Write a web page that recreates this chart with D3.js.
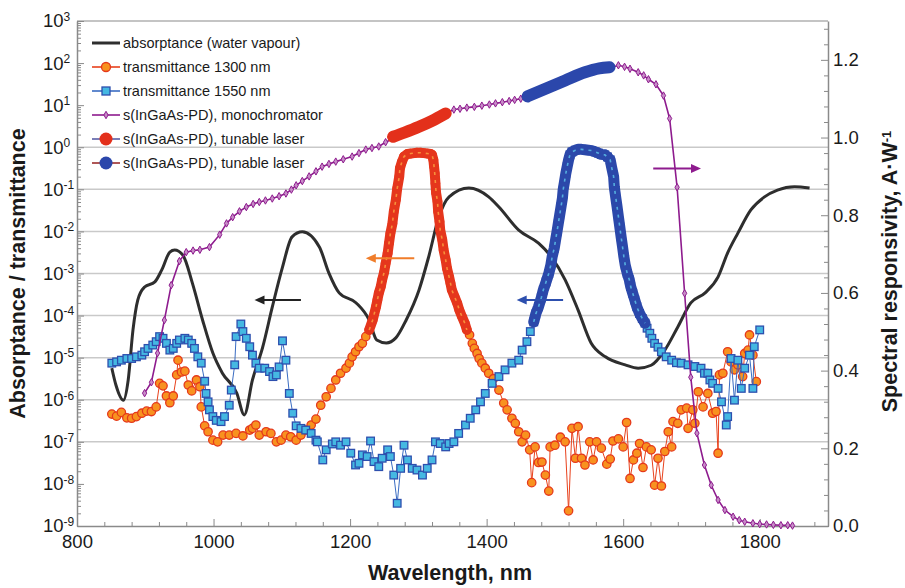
<!DOCTYPE html>
<html>
<head>
<meta charset="utf-8">
<script src="https://cdn.jsdelivr.net/npm/d3@7/dist/d3.min.js"></script>
<style>
  body { margin: 0; background: #fff; }
  svg text { font-family: "Liberation Sans", Arial, Helvetica, sans-serif; fill: #1a1a1a; }
</style>
</head>
<body>
<div class="chart"></div>
<script>
// values
// left axis series are [wavelength nm, log10(value)]
let absWaterLog = [
  [851,-5.25],[857,-5.65],[868,-6.01],[875,-5.53],[882,-4.34],[889,-3.63],[899,-3.32],[914,-3.20],
  [924,-2.92],[936,-2.49],[943,-2.44],[955,-2.56],[969,-3.23],[984,-4.11],[999,-4.89],[1013,-5.37],
  [1034,-5.84],[1045,-6.36],[1057,-5.53],[1072,-4.75],[1086,-3.80],[1101,-2.85],[1115,-2.13],[1130,-2.01],
  [1155,-2.37],[1169,-2.99],[1184,-3.46],[1209,-3.70],[1228,-4.11],[1239,-4.58],[1253,-4.65],[1267,-4.53],
  [1282,-4.11],[1301,-3.39],[1315,-2.61],[1330,-1.66],[1345,-1.18],[1374,-0.97],[1403,-1.18],[1418,-1.42],
  [1447,-1.97],[1476,-2.28],[1495,-2.61],[1515,-3.15],[1534,-3.87],[1553,-4.65],[1574,-4.98],[1603,-5.17],
  [1622,-5.25],[1641,-5.18],[1661,-4.82],[1680,-4.27],[1699,-3.70],[1720,-3.46],[1739,-3.08],[1753,-2.51],
  [1768,-2.04],[1787,-1.49],[1807,-1.18],[1826,-1.02],[1851,-0.94],[1873,-0.97]
];

let trans1300Log = [
  [851,-6.34],[858,-6.39],[865,-6.30],[873,-6.43],[880,-6.44],[887,-6.40],[895,-6.32],[902,-6.27],
  [909,-6.28],[916,-6.17],[921,-5.61],[926,-5.67],[931,-5.91],[936,-6.07],[941,-5.91],[946,-5.41],
  [948,-5.06],[953,-5.34],[958,-5.32],[963,-5.65],[968,-5.79],[975,-5.53],[980,-5.69],[982,-6.17],
  [987,-6.62],[992,-6.76],[999,-6.96],[1006,-7.00],[1014,-6.84],[1023,-6.84],[1033,-6.80],[1043,-6.86],
  [1053,-6.72],[1057,-6.68],[1062,-6.60],[1067,-6.84],[1077,-6.76],[1084,-6.80],[1092,-7.00],[1099,-6.96],
  [1106,-6.84],[1113,-6.88],[1121,-6.96],[1128,-6.84],[1135,-6.72],[1143,-6.60],[1150,-6.46],[1157,-6.13],
  [1165,-5.93],[1172,-5.73],[1179,-5.53],[1186,-5.37],[1194,-5.25],[1199,-5.13],[1203,-4.98],[1208,-4.86],
  [1213,-4.74],[1218,-4.66],[1223,-4.50],[1228,-4.34],[1233,-4.11],[1238,-3.79],[1240,-3.63],[1242,-3.47],
  [1245,-3.31],[1247,-3.15],[1250,-2.96],[1252,-2.76],[1255,-2.52],[1257,-2.28],[1259,-2.05],[1262,-1.81],
  [1264,-1.53],[1267,-1.25],[1269,-0.98],[1272,-0.70],[1273,-0.50],[1276,-0.34],[1279,-0.22],[1284,-0.16],
  [1289,-0.15],[1294,-0.14],[1298,-0.13],[1303,-0.13],[1308,-0.14],[1313,-0.15],[1318,-0.16],[1320,-0.18],
  [1322,-0.30],[1323,-0.46],[1324,-0.62],[1325,-0.86],[1326,-1.09],[1328,-1.29],[1329,-1.53],[1331,-1.77],
  [1332,-1.97],[1335,-2.20],[1337,-2.44],[1340,-2.68],[1342,-2.88],[1345,-3.08],[1347,-3.23],[1349,-3.39],
  [1353,-3.55],[1357,-3.71],[1360,-3.87],[1364,-4.03],[1368,-4.18],[1371,-4.34],[1375,-4.46],[1379,-4.66],
  [1382,-4.78],[1386,-4.90],[1389,-5.02],[1393,-5.13],[1398,-5.25],[1403,-5.37],[1410,-5.50],[1418,-5.77],
  [1425,-6.08],[1430,-6.24],[1437,-6.44],[1442,-6.56],[1447,-6.76],[1452,-7.00],[1457,-6.84],[1463,-7.19],
  [1466,-7.97],[1471,-7.12],[1476,-7.49],[1481,-7.48],[1486,-7.79],[1491,-8.17],[1493,-7.12],[1500,-7.08],
  [1508,-6.89],[1515,-7.00],[1520,-8.64],[1525,-6.68],[1530,-7.39],[1534,-6.64],[1539,-7.39],[1544,-7.55],
  [1551,-7.00],[1556,-7.43],[1561,-7.00],[1568,-7.15],[1576,-7.53],[1581,-7.41],[1585,-6.98],[1593,-6.93],
  [1600,-7.12],[1605,-6.54],[1610,-7.87],[1615,-7.43],[1620,-7.27],[1624,-7.04],[1629,-7.61],[1634,-7.12],
  [1641,-7.19],[1646,-8.03],[1651,-7.39],[1656,-8.05],[1661,-7.23],[1666,-6.76],[1671,-7.12],[1673,-6.52],
  [1680,-6.56],[1685,-6.24],[1693,-6.20],[1695,-6.68],[1702,-6.24],[1705,-6.56],[1710,-5.81],[1717,-6.17],
  [1724,-5.85],[1731,-6.32],[1736,-6.28],[1739,-7.27],[1741,-5.41],[1746,-5.37],[1753,-4.86],[1758,-5.10],
  [1763,-5.29],[1768,-5.17],[1775,-5.45],[1778,-4.90],[1783,-4.82],[1785,-4.46],[1790,-4.94],[1795,-5.57]
];

let trans1550Log = [
  [851,-5.13],[858,-5.10],[865,-5.06],[873,-5.02],[880,-5.02],[887,-4.98],[895,-4.94],[899,-4.86],
  [904,-4.78],[911,-4.70],[916,-4.62],[921,-4.50],[926,-4.54],[931,-4.66],[936,-4.82],[941,-4.78],
  [946,-4.66],[950,-4.58],[958,-4.54],[963,-4.58],[968,-4.66],[972,-4.78],[977,-4.98],[982,-5.13],
  [987,-5.56],[989,-5.85],[992,-6.05],[994,-6.24],[999,-6.40],[1004,-6.49],[1011,-6.52],[1016,-6.40],
  [1023,-6.13],[1026,-5.77],[1031,-5.17],[1033,-4.50],[1040,-4.20],[1043,-4.38],[1048,-4.54],[1053,-4.74],
  [1057,-4.94],[1062,-5.13],[1067,-5.25],[1075,-5.25],[1082,-5.33],[1087,-5.45],[1092,-5.41],[1096,-5.22],
  [1101,-4.60],[1106,-5.06],[1111,-5.85],[1116,-6.32],[1121,-6.62],[1128,-6.68],[1135,-6.72],[1143,-6.80],
  [1150,-6.96],[1152,-7.00],[1160,-7.43],[1165,-7.19],[1174,-7.05],[1179,-7.00],[1186,-7.08],[1194,-7.00],
  [1201,-7.27],[1208,-7.55],[1213,-7.51],[1218,-7.31],[1225,-7.35],[1230,-6.98],[1235,-7.47],[1242,-7.59],
  [1247,-7.39],[1255,-7.19],[1259,-7.35],[1264,-7.79],[1269,-8.46],[1274,-7.63],[1279,-7.08],[1284,-7.43],
  [1291,-7.63],[1298,-7.67],[1306,-7.79],[1313,-7.63],[1320,-7.43],[1325,-7.00],[1332,-7.04],[1340,-7.12],
  [1345,-7.04],[1352,-7.00],[1359,-6.80],[1369,-6.60],[1376,-6.44],[1384,-6.24],[1391,-6.05],[1398,-5.85],
  [1408,-5.61],[1418,-5.45],[1427,-5.29],[1437,-5.13],[1447,-5.06],[1452,-4.82],[1459,-4.62],[1464,-4.38],
  [1469,-4.15],[1472,-3.96],[1476,-3.79],[1480,-3.58],[1483,-3.39],[1487,-3.20],[1491,-3.00],[1494,-2.80],
  [1496,-2.60],[1499,-2.40],[1501,-2.20],[1503,-2.01],[1505,-1.81],[1507,-1.61],[1509,-1.41],[1511,-1.21],
  [1512,-1.02],[1514,-0.82],[1516,-0.62],[1518,-0.46],[1520,-0.30],[1522,-0.18],[1525,-0.11],[1530,-0.07],
  [1534,-0.05],[1539,-0.05],[1544,-0.06],[1549,-0.07],[1554,-0.08],[1559,-0.11],[1564,-0.14],[1568,-0.17],
  [1573,-0.18],[1577,-0.23],[1581,-0.30],[1583,-0.47],[1586,-0.70],[1587,-0.94],[1589,-1.18],[1591,-1.41],
  [1593,-1.65],[1595,-1.89],[1597,-2.13],[1599,-2.36],[1601,-2.60],[1603,-2.80],[1606,-3.00],[1609,-3.15],
  [1611,-3.31],[1614,-3.47],[1617,-3.63],[1620,-3.79],[1624,-3.95],[1628,-4.07],[1632,-4.18],[1635,-4.30],
  [1639,-4.42],[1642,-4.54],[1646,-4.66],[1651,-4.75],[1656,-4.86],[1663,-4.98],[1671,-5.06],[1678,-5.12],
  [1685,-5.13],[1695,-5.17],[1705,-5.21],[1714,-5.25],[1719,-5.37],[1724,-5.37],[1727,-5.53],[1731,-5.61],
  [1739,-5.73],[1744,-6.05],[1751,-6.60],[1753,-6.40],[1758,-5.02],[1763,-6.01],[1768,-5.06],[1773,-5.73],
  [1778,-5.25],[1785,-4.94],[1790,-5.73],[1792,-4.74],[1800,-4.34]
];

// wavelength spans where the measured points are so close that the markers merge
let dense1300 = [1228, 1371];
let dense1550 = [1469, 1632];

// right axis series, [wavelength nm, A/W]
let respMono = [
  [899,0.342],[909,0.370],[918,0.445],[928,0.530],[938,0.620],[950,0.682],[960,0.705],[970,0.709],
  [980,0.711],[994,0.718],[1009,0.750],[1019,0.779],[1028,0.795],[1038,0.810],[1048,0.821],[1058,0.829],
  [1067,0.834],[1076,0.838],[1086,0.843],[1096,0.849],[1106,0.856],[1114,0.866],[1121,0.877],[1130,0.888],
  [1140,0.900],[1150,0.913],[1159,0.925],[1169,0.932],[1179,0.938],[1190,0.944],[1203,0.951],[1213,0.960],
  [1223,0.969],[1232,0.973],[1242,0.977],[1252,0.988],
  [1352,1.072],[1361,1.074],[1371,1.077],[1382,1.079],[1393,1.082],[1404,1.085],[1413,1.088],[1423,1.091],
  [1433,1.094],[1441,1.097],[1450,1.100],
  [1593,1.186],[1602,1.182],[1610,1.177],[1622,1.168],[1630,1.160],[1637,1.150],[1648,1.137],[1659,1.108],
  [1668,1.049],[1679,0.872],[1690,0.599],[1699,0.383],[1708,0.239],[1719,0.157],[1729,0.105],[1739,0.067],
  [1749,0.041],[1761,0.024],[1770,0.015],[1778,0.011],[1790,0.007],[1800,0.005],[1810,0.004],[1820,0.003],
  [1831,0.002],[1841,0.002],[1848,0.001]
];
let respLaser1300 = [[1263,1.002],[1280,1.013],[1300,1.027],[1320,1.043],[1340,1.062]];
let respLaser1550 = [[1460,1.106],[1488,1.127],[1515,1.147],[1544,1.168],[1565,1.178],[1580,1.181]];

let xTicks = [800, 1000, 1200, 1400, 1600, 1800];
let leftExps = [3, 2, 1, 0, -1, -2, -3, -4, -5, -6, -7, -8, -9];
let gridExps = [0, -1, -2, -3, -4, -5, -6, -7];
let rightTicks = [0, 0.2, 0.4, 0.6, 0.8, 1.0, 1.2];

let legendLabels = [
  "absorptance (water vapour)",
  "transmittance 1300 nm",
  "transmittance 1550 nm",
  "s(InGaAs-PD), monochromator",
  "s(InGaAs-PD), tunable laser",
  "s(InGaAs-PD), tunable laser"
];

let svgWidth = 905;
let svgHeight = 588;
let margin = { top: 21, right: 77, bottom: 62, left: 77 };
let width = svgWidth - margin.left - margin.right;
let height = svgHeight - margin.top - margin.bottom;

let svg = d3.select(".chart")
  .append("svg")
  .attr("width", svgWidth)
  .attr("height", svgHeight);

let chartGroup = svg.append("g")
  .attr("transform", `translate(${margin.left}, ${margin.top})`);

let x = d3.scaleLinear().domain([800, 1900]).range([0, width]);
let yLeft = d3.scaleLog().domain([1e-9, 1e3]).range([height, 0]);
let yRight = d3.scaleLinear().domain([0, 1.3]).range([height, 0]);

let axisColor = "#8a8a8a";

// grid
chartGroup.append("g").selectAll("line")
  .data(gridExps)
  .enter()
  .append("line")
  .attr("x1", 0).attr("x2", width)
  .attr("y1", d => yLeft(Math.pow(10, d)))
  .attr("y2", d => yLeft(Math.pow(10, d)))
  .attr("stroke", "#c9c9c9")
  .attr("stroke-width", 1.5);

// frame top
chartGroup.append("line")
  .attr("x1", 0).attr("x2", width).attr("y1", 0).attr("y2", 0)
  .attr("stroke", axisColor).attr("stroke-width", 1.2);

// bottom axis
let xMinor = d3.range(840, 1900, 40).filter(v => (v - 800) % 200 !== 0);
chartGroup.append("g")
  .attr("transform", `translate(0, ${height})`)
  .call(d3.axisBottom(x).tickValues(xMinor).tickSizeInner(-4).tickSizeOuter(0).tickFormat(""))
  .call(g => g.selectAll("line").attr("stroke", axisColor));
let xAxisG = chartGroup.append("g")
  .attr("transform", `translate(0, ${height})`)
  .call(d3.axisBottom(x).tickValues(xTicks).tickSizeInner(-7).tickSizeOuter(0).tickPadding(9).tickFormat(d3.format("d")));
xAxisG.select(".domain").attr("stroke", axisColor).attr("stroke-width", 1.5);
xAxisG.selectAll("line").attr("stroke", axisColor);
xAxisG.selectAll("text").attr("font-size", "18.5px").attr("fill", "#1a1a1a");

// left axis
let leftMinor = [];
leftExps.slice(1).forEach(e => { for (let m = 2; m <= 9; m++) leftMinor.push(m * Math.pow(10, e)); });
chartGroup.append("g")
  .call(d3.axisLeft(yLeft).tickValues(leftMinor).tickSizeInner(-4).tickSizeOuter(0).tickFormat(""))
  .call(g => g.selectAll("line").attr("stroke", axisColor))
  .call(g => g.select(".domain").remove());
let yAxisG = chartGroup.append("g")
  .call(d3.axisLeft(yLeft).tickValues(leftExps.map(e => Math.pow(10, e))).tickSizeInner(-7).tickSizeOuter(0).tickPadding(34));
yAxisG.select(".domain").attr("stroke", axisColor).attr("stroke-width", 1.5);
yAxisG.selectAll("line").attr("stroke", axisColor);
yAxisG.selectAll(".tick text").each(function(d) {
  let t = d3.select(this);
  let e = Math.round(Math.log10(d));
  t.text(null).attr("text-anchor", "start").attr("font-size", "18.5px");
  t.append("tspan").text("10");
  t.append("tspan").attr("dy", "-0.55em").attr("font-size", "12px").text(e);
});

// right axis
let rightMinor = d3.range(0.04, 1.31, 0.04).filter(v => Math.abs(v * 5 - Math.round(v * 5)) > 1e-6);
chartGroup.append("g")
  .attr("transform", `translate(${width}, 0)`)
  .call(d3.axisRight(yRight).tickValues(rightMinor).tickSizeInner(-4).tickSizeOuter(0).tickFormat(""))
  .call(g => g.selectAll("line").attr("stroke", axisColor))
  .call(g => g.select(".domain").remove());
let yRightG = chartGroup.append("g")
  .attr("transform", `translate(${width}, 0)`)
  .call(d3.axisRight(yRight).tickValues(rightTicks).tickSizeInner(-7).tickSizeOuter(0).tickPadding(5).tickFormat(d3.format(".1f")));
yRightG.select(".domain").attr("stroke", axisColor).attr("stroke-width", 1.5);
yRightG.selectAll("line").attr("stroke", axisColor);
yRightG.selectAll("text").attr("font-size", "18.5px").attr("fill", "#1a1a1a");

// lines
let lineLog = d3.line().x(d => x(d[0])).y(d => yLeft(Math.pow(10, d[1])));
let lineResp = d3.line().x(d => x(d[0])).y(d => yRight(d[1]));

chartGroup.append("path")
  .datum(absWaterLog)
  .attr("d", lineLog.curve(d3.curveMonotoneX))
  .attr("fill", "none")
  .attr("stroke", "#2e2e2e")
  .attr("stroke-width", 3)
  .attr("stroke-linejoin", "round");
lineLog.curve(d3.curveLinear);

// merged markers: a band in the stroke colour with the fill peeking through
function denseBand(data, span, dark, light, w) {
  let part = data.filter(d => d[0] >= span[0] && d[0] <= span[1]);
  chartGroup.append("path")
    .datum(part)
    .attr("d", lineLog)
    .attr("fill", "none")
    .attr("stroke", dark)
    .attr("stroke-width", w)
    .attr("stroke-linecap", "round")
    .attr("stroke-linejoin", "round");
  chartGroup.append("path")
    .datum(part)
    .attr("d", lineLog)
    .attr("fill", "none")
    .attr("stroke", light)
    .attr("stroke-width", 1.6)
    .attr("stroke-dasharray", "3,5")
    .attr("opacity", 0.85);
}

// transmittance 1300 nm
chartGroup.append("path")
  .datum(trans1300Log)
  .attr("d", lineLog)
  .attr("fill", "none")
  .attr("stroke", "#e8411c")
  .attr("stroke-width", 1);
chartGroup.append("g").selectAll("circle")
  .data(trans1300Log)
  .enter()
  .append("circle")
  .attr("cx", d => x(d[0]))
  .attr("cy", d => yLeft(Math.pow(10, d[1])))
  .attr("r", 4.2)
  .attr("fill", "#f8921f")
  .attr("stroke", "#e5391b")
  .attr("stroke-width", 1.3);
denseBand(trans1300Log, dense1300, "#e5361c", "#f9a040", 10);

// transmittance 1550 nm
chartGroup.append("path")
  .datum(trans1550Log)
  .attr("d", lineLog)
  .attr("fill", "none")
  .attr("stroke", "#3a6cc2")
  .attr("stroke-width", 1);
chartGroup.append("g").selectAll("rect")
  .data(trans1550Log)
  .enter()
  .append("rect")
  .attr("x", d => x(d[0]) - 3.8)
  .attr("y", d => yLeft(Math.pow(10, d[1])) - 3.8)
  .attr("width", 7.6)
  .attr("height", 7.6)
  .attr("fill", "#45b8e2")
  .attr("stroke", "#2d4fae")
  .attr("stroke-width", 1.3);
denseBand(trans1550Log, dense1550, "#2b48aa", "#5cc0e8", 11);

// responsivity, monochromator
chartGroup.append("path")
  .datum(respMono)
  .attr("d", lineResp)
  .attr("fill", "none")
  .attr("stroke", "#8e1b8e")
  .attr("stroke-width", 1.6);
chartGroup.append("g").selectAll("path")
  .data(respMono)
  .enter()
  .append("path")
  .attr("d", d3.symbol(d3.symbolDiamond, 16))
  .attr("transform", d => `translate(${x(d[0])}, ${yRight(d[1])})`)
  .attr("fill", "#c78cc7")
  .attr("stroke", "#8e1b8e")
  .attr("stroke-width", 1);

// responsivity, tunable lasers (dense markers merge into a band)
[[respLaser1300, "#e3301b"], [respLaser1550, "#2b47ab"]].forEach(([data, color]) => {
  chartGroup.append("path")
    .datum(data)
    .attr("d", lineResp.curve(d3.curveMonotoneX))
    .attr("fill", "none")
    .attr("stroke", color)
    .attr("stroke-width", 12)
    .attr("stroke-linecap", "round")
    .attr("stroke-linejoin", "round");
});

// arrows pointing to the axis each curve belongs to
let arrows = [
  { from: 1128, to: 1060, v: Math.pow(10, -3.63), scale: yLeft, color: "#222" },
  { from: 1294, to: 1223, v: Math.pow(10, -2.64), scale: yLeft, color: "#f07d2a" },
  { from: 1512, to: 1444, v: Math.pow(10, -3.63), scale: yLeft, color: "#2d4fae" },
  { from: 1644, to: 1714, v: 0.92, scale: yRight, color: "#8e1b8e" }
];
arrows.forEach(a => {
  let x0 = x(a.from), x1 = x(a.to), yy = a.scale(a.v);
  let dir = x1 > x0 ? 1 : -1;
  chartGroup.append("line")
    .attr("x1", x0).attr("x2", x1 - dir * 6)
    .attr("y1", yy).attr("y2", yy)
    .attr("stroke", a.color).attr("stroke-width", 2);
  chartGroup.append("path")
    .attr("d", `M${x1},${yy} L${x1 - dir * 10},${yy - 4.5} L${x1 - dir * 10},${yy + 4.5} Z`)
    .attr("fill", a.color);
});

// legend
let legend = svg.append("g");
legendLabels.forEach((label, i) => {
  let ly = 43 + i * 24;
  let row = legend.append("g").attr("transform", `translate(92, ${ly})`);
  let lineColors = ["#2e2e2e", "#e8411c", "#3a6cc2", "#8e1b8e", "#5b5ea6", "#9b2d2d"];
  row.append("line")
    .attr("x1", 0).attr("x2", 28).attr("y1", 0).attr("y2", 0)
    .attr("stroke", lineColors[i])
    .attr("stroke-width", i === 0 ? 3 : 1.6);
  if (i === 1) {
    row.append("circle").attr("cx", 14).attr("r", 4.5)
      .attr("fill", "#f8921f").attr("stroke", "#e5391b").attr("stroke-width", 1.3);
  } else if (i === 2) {
    row.append("rect").attr("x", 10).attr("y", -4).attr("width", 8).attr("height", 8)
      .attr("fill", "#45b8e2").attr("stroke", "#2d4fae").attr("stroke-width", 1.3);
  } else if (i === 3) {
    row.append("path").attr("d", d3.symbol(d3.symbolDiamond, 16)).attr("transform", "translate(14,0)")
      .attr("fill", "#c78cc7").attr("stroke", "#8e1b8e");
  } else if (i === 4) {
    row.append("circle").attr("cx", 14).attr("r", 6.5).attr("fill", "#e3301b");
  } else if (i === 5) {
    row.append("circle").attr("cx", 14).attr("r", 6.5).attr("fill", "#2b47ab");
  }
  row.append("text")
    .attr("x", 31)
    .attr("dy", "0.35em")
    .attr("font-size", "14.5px")
    .text(label);
});

// axis titles
svg.append("text")
  .attr("transform", `translate(25, ${margin.top + height / 2}) rotate(-90)`)
  .attr("text-anchor", "middle")
  .attr("font-size", "21.5px")
  .attr("font-weight", "bold")
  .text("Absorptance / transmittance");

svg.append("text")
  .attr("x", 450)
  .attr("y", 580)
  .attr("text-anchor", "middle")
  .attr("font-size", "21.5px")
  .attr("font-weight", "bold")
  .text("Wavelength, nm");

let rightTitle = svg.append("text")
  .attr("transform", `translate(897, ${margin.top + height / 2 - 2}) rotate(-90)`)
  .attr("text-anchor", "middle")
  .attr("font-size", "21.5px")
  .attr("font-weight", "bold");
rightTitle.append("tspan").text("Spectral responsivity, A·W");
rightTitle.append("tspan").attr("dy", "-0.5em").attr("font-size", "13px").text("-1");
</script>
</body>
</html>
